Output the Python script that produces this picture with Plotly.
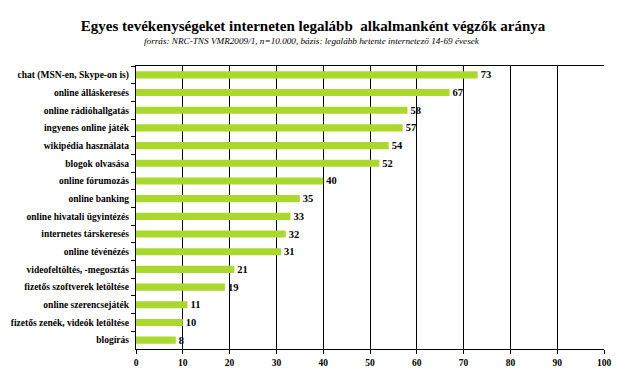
import plotly.graph_objects as go

categories = [
    "chat (MSN-en, Skype-on is)",
    "online álláskeresés",
    "online rádióhallgatás",
    "ingyenes online játék",
    "wikipédia használata",
    "blogok olvasása",
    "online fórumozás",
    "online banking",
    "online hivatali ügyintézés",
    "internetes társkeresés",
    "online tévénézés",
    "videofeltöltés, -megosztás",
    "fizetős szoftverek letöltése",
    "online szerencsejáték",
    "fizetős zenék, videók letöltése",
    "blogírás",
]
values = [73, 67, 58, 57, 54, 52, 40, 35, 33, 32, 31, 21, 19, 11, 10, 8.5]
labels = ["73", "67", "58", "57", "54", "52", "40", "35", "33", "32", "31", "21", "19", "11", "10", "8"]
x_ticks = [0, 10, 20, 30, 40, 50, 60, 70, 80, 90, 100]

SERIF = "'Liberation Serif', 'Times New Roman', 'DejaVu Serif', serif"

W, H = 615, 375  # page adds an 8px body margin

fig = go.Figure(go.Bar(
    y=categories, x=values, orientation="h",
    marker=dict(color="#ABD82C", line=dict(width=0)),
    width=0.4,
    text=labels, textposition="outside", cliponaxis=False, constraintext="none",
    textfont=dict(family=SERIF, size=10.5, color="black", weight="bold"),
))

fig.update_layout(
    width=W, height=H,
    paper_bgcolor="white", plot_bgcolor="white",
    margin=dict(l=128, r=19, t=58, b=34, autoexpand=False),
    showlegend=False,
    title=dict(
        text="<b>Egyes tevékenységeket interneten legalább  alkalmanként végzők aránya</b>",
        x=0.496, xanchor="center", y=1 - 18 / H, yanchor="middle",
        font=dict(family=SERIF, size=15, color="black"),
    ),
    annotations=[dict(
        text="<i>forrás: NRC-TNS VMR2009/1, n=10.000, bázis: legalább hetente internetező 14-69 évesek</i>",
        xref="paper", yref="paper", x=0.376, y=(341 - 33) / 283,
        xanchor="center", yanchor="middle", showarrow=False,
        font=dict(family=SERIF, size=9.2, color="black"),
    )],
    xaxis=dict(
        range=[0, 100], tickvals=x_ticks, showgrid=True, gridcolor="black", gridwidth=1.3,
        showline=True, linecolor="black", linewidth=1.3, mirror=True,
        ticks="outside", ticklen=4, tickcolor="black", zeroline=False, automargin=False,
        tickfont=dict(family=SERIF, size=9.5, color="black", weight="bold"),
    ),
    yaxis=dict(
        autorange="reversed", showgrid=False, automargin=False,
        showline=True, linecolor="black", linewidth=1.3,
        ticks="outside", ticklen=4, tickcolor="black", tickson="boundaries",
        ticklabelstandoff=4,
        tickfont=dict(family=SERIF, size=9.5, color="black", weight="bold"),
    ),
)

fig.write_html("out.html")
